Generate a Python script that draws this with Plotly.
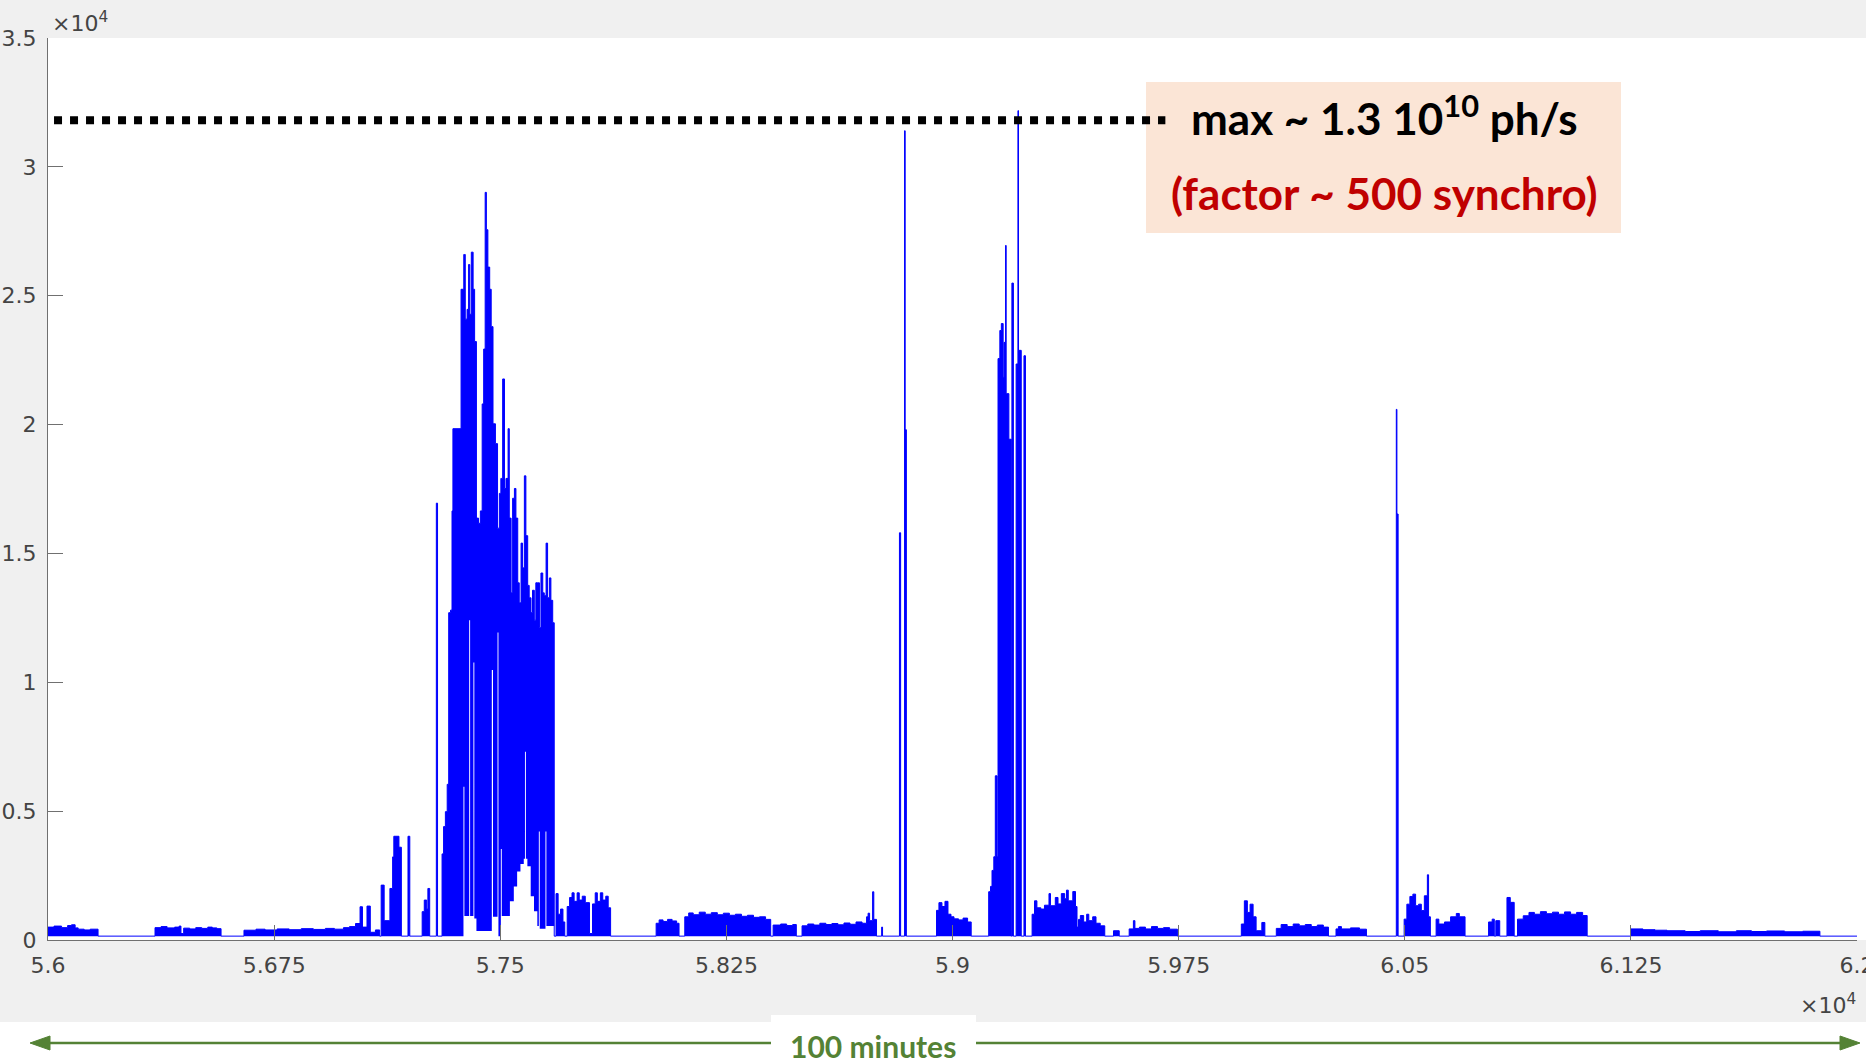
import numpy as np
import plotly.graph_objects as go

W, H = 1866, 1063
ML, MR, MT, MB = 48, 9, 38, 123
PW, PH = W - ML - MR, H - MT - MB

BASE = 150  # baseline counts

# ---- upper envelope of the signal: (start time [s], level [counts]) ----
quiet_a = [(56000, 500), (56020, 540), (56045, 480), (56065, 560), (56078, 590), (56090, 470),
           (56100, 420), (56120, 390), (56140, 420), (56166, BASE)]
quiet_b = [(56355, 480), (56375, 520), (56395, 470), (56420, 500), (56435, 540), (56441, 250),
           (56450, 460), (56470, 430), (56490, 480), (56510, 450), (56530, 500), (56545, 470),
           (56560, 440), (56574, BASE)]
quiet_c = [(56650, 380), (56690, 420), (56720, 390), (56760, 430), (56800, 400), (56840, 440),
           (56880, 410), (56920, 450), (56950, 420), (56980, 480), (57000, 520), (57020, 640),
           (57035, 1290), (57043, 500), (57058, 1316), (57069, 300), (57086, 390), (57100, BASE),
           (57105, 2130), (57115, 750), (57134, 2000), (57143, 3225), (57147, 4025), (57164, 3600),
           (57172, BASE), (57194, 4025), (57200, BASE), (57241, 1100), (57248, 1550), (57256, 1200),
           (57260, 2000), (57266, BASE), (57288, 16950), (57292, BASE)]
burst_main = [(57307, 3340), (57312, 4400), (57318, 4980), (57324, 6040), (57329, 12700),
              (57335, 12800), (57340, 16650), (57343, 19840), (57370, 25250), (57379, 26600),
              (57384, 24090), (57390, 24470), (57395, 26210), (57399, 24280), (57404, 26690),
              (57410, 25250), (57415, 23220), (57421, 16370), (57428, 16170), (57434, 16650),
              (57440, 20800), (57445, 22930), (57450, 29010), (57454, 27560), (57459, 26110),
              (57465, 25250), (57470, 23800), (57476, 20030), (57484, 19260), (57491, 15980),
              (57497, 17330), (57502, 17910), (57508, 21770), (57514, 17520), (57519, 17910),
              (57526, 19840), (57530, 16370), (57536, 13470), (57541, 17140), (57547, 17520),
              (57552, 16370), (57558, 13860), (57563, 13090), (57569, 15400), (57574, 14440),
              (57580, 18010), (57585, 15690), (57591, 13760), (57596, 13280), (57602, 12700),
              (57607, 13570), (57613, 12410), (57618, 13860), (57624, 13860), (57630, 12120),
              (57635, 14240), (57641, 13470), (57646, 13370), (57652, 15400), (57657, 13280),
              (57663, 14050), (57668, 13180), (57674, 12310), (57679, BASE)]
burst_tail = [(57685, 1800), (57692, 1000), (57700, 1200), (57708, 700), (57714, BASE),
              (57722, 1300), (57730, 1650), (57738, 1830), (57745, 1500), (57755, 1830),
              (57762, 1550), (57772, 1700), (57782, 1450), (57796, 250), (57806, 1400),
              (57815, 1830), (57822, 1500), (57832, 1830), (57840, 1550), (57850, 1700),
              (57858, 1250), (57866, BASE)]
quiet_d = [(58017, 650), (58027, 780), (58040, 720), (58055, 800), (58070, 740), (58085, 650),
           (58093, BASE), (58112, 900), (58125, 1050), (58140, 980), (58160, 1080), (58180, 1000),
           (58200, 1060), (58220, 980), (58240, 1040), (58260, 960), (58280, 1000), (58300, 920),
           (58320, 960), (58340, 880), (58360, 900), (58380, 800), (58397, BASE), (58405, 580),
           (58430, 620), (58450, 560), (58470, 600), (58482, BASE), (58501, 550), (58520, 620),
           (58540, 580), (58560, 650), (58580, 600), (58600, 640), (58620, 590), (58640, 660),
           (58660, 610), (58680, 700), (58700, 650), (58715, 900), (58720, 1040), (58725, 750),
           (58735, 1870), (58739, 800), (58748, BASE), (58765, 500), (58768, BASE)]
spikes_a = [(58824, 15800), (58828, BASE), (58841, 31400), (58843, 19800), (58847, BASE)]
quiet_e = [(58947, 1150), (58955, 1450), (58965, 1300), (58975, 1500), (58985, 1000),
           (58995, 900), (59005, 820), (59020, 780), (59035, 850), (59050, 700), (59062, BASE)]
burst_second = [(59120, 1873), (59126, 2080), (59131, 2700), (59137, 3230), (59142, 6370),
                (59148, 3230), (59151, 22560), (59157, 23650), (59162, 23920), (59168, 21830),
                (59171, 23190), (59176, 26950), (59178, 21200), (59187, 19430), (59195, BASE),
                (59197, 25490), (59202, BASE), (59211, 22350), (59217, 32180), (59219, 22880),
                (59228, BASE), (59237, 22670), (59242, BASE)]
quiet_f = [(59264, 1000), (59272, 1520), (59280, 1250), (59293, 1200), (59305, 1350),
           (59320, 1800), (59325, 1330), (59341, 1650), (59350, 1400), (59361, 1800),
           (59372, 1600), (59378, 1935), (59384, 1520), (59399, 1880), (59408, 1300),
           (59413, 500), (59418, 800), (59424, 950), (59435, 700), (59445, 1000), (59452, 750),
           (59465, 900), (59476, 650), (59490, 550), (59505, BASE), (59534, 360), (59553, BASE),
           (59586, 430), (59600, 750), (59605, 450), (59620, 500), (59640, 430), (59660, 520),
           (59680, 450), (59700, 480), (59720, 420), (59746, BASE)]
quiet_g = [(59958, 620), (59968, 1520), (59978, 1070), (59987, 1390), (59997, 900),
           (60007, 360), (60026, 680), (60036, BASE), (60074, 450), (60090, 600), (60110, 520),
           (60130, 620), (60150, 550), (60170, 600), (60190, 520), (60210, 580), (60230, 500),
           (60247, BASE), (60272, 430), (60280, 520), (60290, 430), (60320, 470), (60350, 420),
           (60373, BASE)]
spikes_b = [(60472, 20590), (60474, 16530), (60478, BASE)]
quiet_h = [(60498, 810), (60507, 1390), (60517, 1690), (60527, 1780), (60536, 1330),
           (60546, 1390), (60555, 1140), (60565, 1715), (60575, 2530), (60579, 900),
           (60585, BASE), (60604, 810), (60613, 620), (60632, 700), (60652, 900), (60671, 1030),
           (60681, 900), (60700, BASE), (60778, 700), (60790, 810), (60797, BASE), (60802, 750),
           (60815, BASE), (60839, 1650), (60850, 1460), (60863, BASE), (60874, 810),
           (60893, 940), (60912, 1070), (60930, 1000), (60950, 1100), (60970, 1020),
           (60990, 1080), (61010, 1000), (61030, 1090), (61050, 1000), (61070, 1070),
           (61090, 950), (61105, BASE)]
quiet_i = [(61250, 430), (61290, 400), (61330, 380), (61370, 360), (61430, 330), (61480, 360),
           (61540, 320), (61600, 360), (61650, 330), (61700, 350), (61760, 320), (61820, 340),
           (61877, BASE)]

# ---- lower envelope (white gaps inside the dense burst) ----
burst_gaps = [(56000, BASE), (57378, 5950), (57381, 930), (57397, 12410), (57400, 930),
              (57411, 10770), (57414, 830), (57421, 350), (57472, 10480), (57476, 900),
              (57491, 11930), (57494, 150), (57502, 3530), (57505, 930), (57532, 1500),
              (57545, 2080), (57556, 2660), (57567, 2950), (57578, 3150), (57582, 7300),
              (57585, 3150), (57590, 2860), (57601, 1700), (57612, 1120), (57623, 540),
              (57628, 4210), (57631, 440), (57650, 4210), (57653, 540), (57679, BASE)]

T_START, T_END = 56000, 62000
x_ticks = [56000, 56750, 57500, 58250, 59000, 59750, 60500, 61250, 62000]
x_labels = ["5.6", "5.675", "5.75", "5.825", "5.9", "5.975", "6.05", "6.125", "6.2"]
y_ticks = [0, 5000, 10000, 15000, 20000, 25000, 30000, 35000]
y_labels = ["0", "0.5", "1", "1.5", "2", "2.5", "3", "3.5"]

max_level = 31810
max_line_x = [56020, 59706]

# ---- build step traces ----
hi_steps = sorted(quiet_a + quiet_b + quiet_c + burst_main + burst_tail + quiet_d + spikes_a +
                  quiet_e + burst_second + quiet_f + quiet_g + spikes_b + quiet_h + quiet_i)
lo_steps = sorted(burst_gaps)


def step_eval(steps, ts):
    st = np.array([s[0] for s in steps], dtype=float)
    sv = np.array([s[1] for s in steps], dtype=float)
    idx = np.searchsorted(st, ts, side="right") - 1
    return sv[np.clip(idx, 0, None)]


xs = np.array(sorted(set([s[0] for s in hi_steps] + [s[0] for s in lo_steps])) + [T_END], dtype=float)
hi = step_eval(hi_steps, xs)
lo = np.minimum(step_eval(lo_steps, xs), hi)


def px(x):
    return (x - ML) / PW


def py(y):
    return (H - MB - y) / PH


fig = go.Figure()
fig.add_trace(go.Scatter(x=xs, y=lo, mode="lines", line=dict(width=0, shape="hv", color="#0000ff"),
                         hoverinfo="skip", showlegend=False))
fig.add_trace(go.Scatter(x=xs, y=hi, mode="lines", line=dict(width=1, shape="hv", color="#0000ff"),
                         fill="tonexty", fillcolor="#0000ff", showlegend=False))
fig.add_trace(go.Scatter(x=max_line_x, y=[max_level, max_level], mode="lines",
                         line=dict(color="black", width=8, dash="8px,8px"), showlegend=False,
                         hoverinfo="skip"))

green = "#548235"
shapes = [
    dict(type="rect", xref="paper", yref="paper", x0=px(0), x1=px(W), y0=py(1022), y1=py(0),
         fillcolor="#f0f0f0", line=dict(width=0), layer="below"),
    dict(type="rect", xref="paper", yref="paper", x0=0, x1=px(W), y0=0, y1=1,
         fillcolor="white", line=dict(width=0), layer="below"),
    dict(type="rect", xref="paper", yref="paper", x0=px(1146), x1=px(1621), y0=py(233), y1=py(82),
         fillcolor="#fbe5d6", line=dict(width=0), layer="below"),
    dict(type="line", xref="paper", yref="paper", x0=px(44), x1=px(1845), y0=py(1043), y1=py(1043),
         line=dict(color=green, width=2.5)),
    dict(type="path", xref="paper", yref="paper",
         path=f"M {px(30)},{py(1043)} L {px(50)},{py(1036)} L {px(50)},{py(1050)} Z",
         fillcolor=green, line=dict(color=green, width=1)),
    dict(type="path", xref="paper", yref="paper",
         path=f"M {px(1860)},{py(1043)} L {px(1840)},{py(1036)} L {px(1840)},{py(1050)} Z",
         fillcolor=green, line=dict(color=green, width=1)),
    dict(type="rect", xref="paper", yref="paper", x0=px(771), x1=px(976), y0=py(1063), y1=py(1015),
         fillcolor="white", line=dict(width=0)),
]

tickfont = dict(family="DejaVu Sans", size=22, color="#444444")
annotations = [
    dict(xref="paper", yref="paper", x=px(50), y=py(22), xanchor="left", yanchor="middle",
         text="×10<sup>4</sup>", showarrow=False, font=tickfont),
    dict(xref="paper", yref="paper", x=px(1858), y=py(1004), xanchor="right", yanchor="middle",
         text="×10<sup>4</sup>", showarrow=False, font=tickfont),
    dict(xref="paper", yref="paper", x=px(1384), y=py(116), xanchor="center", yanchor="middle",
         text="<b>max ~ 1.3 10<sup>10</sup> ph/s</b>", showarrow=False,
         font=dict(family="Lato", size=44, color="black")),
    dict(xref="paper", yref="paper", x=px(1384), y=py(193), xanchor="center", yanchor="middle",
         text="<b>(factor ~ 500 synchro)</b>", showarrow=False,
         font=dict(family="Lato", size=44, color="#c00000")),
    dict(xref="paper", yref="paper", x=px(873), y=py(1046), xanchor="center", yanchor="middle",
         text="<b>100 minutes</b>", showarrow=False,
         font=dict(family="Lato", size=30, color=green)),
]

axis_common = dict(showline=True, linecolor="#707070", linewidth=1.3, ticks="inside",
                   ticklen=15, tickwidth=1.3, tickcolor="#707070", showgrid=False,
                   zeroline=False, tickfont=tickfont, mirror=False, automargin=False)

fig.update_layout(
    width=W, height=H,
    margin=dict(l=ML, r=MR, t=MT, b=MB, pad=0),
    paper_bgcolor="white", plot_bgcolor="white",
    shapes=shapes, annotations=annotations, showlegend=False,
    xaxis=dict(range=[T_START, T_END], tickvals=x_ticks, ticktext=x_labels, ticklabelstandoff=5,
               ticklabeloverflow="allow", **axis_common),
    yaxis=dict(range=[0, 35000], tickvals=y_ticks, ticktext=y_labels, ticklabelstandoff=6,
               ticklabeloverflow="allow", **axis_common),
)

fig.write_html("out.html", config={"displayModeBar": False},
               post_script="document.body.style.margin='0';document.body.style.overflow='hidden';")
